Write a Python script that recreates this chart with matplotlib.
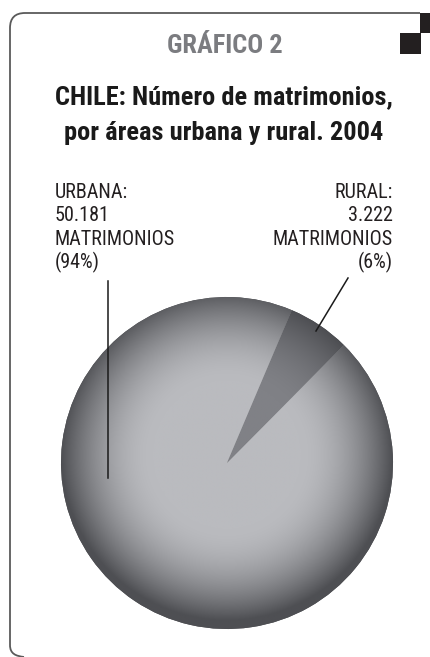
import numpy as np
import matplotlib
matplotlib.use('Agg')
import matplotlib.pyplot as plt
from matplotlib import font_manager
from matplotlib.path import Path
from matplotlib.patches import PathPatch, Rectangle

# data
labels = ['RURAL', 'URBANA']
values = [3222, 50181]
label_text = {
    'URBANA': ['URBANA:', '50.181', 'MATRIMONIOS', '(94%)'],
    'RURAL': ['RURAL:', '3.222', 'MATRIMONIOS', '(6%)'],
}
supertitle = 'GRÁFICO 2'
title_lines = ['CHILE: Número de matrimonios,', 'por áreas urbana y rural. 2004']

names = {f.name for f in font_manager.fontManager.ttflist}
fam = 'DejaVu Sans'
for cand in ['Roboto Condensed', 'Liberation Sans Narrow', 'DejaVu Sans Condensed', 'Liberation Sans']:
    if cand in names:
        fam = cand
        break
plt.rcParams['font.family'] = [fam, 'DejaVu Sans']

W, H = 431, 657
fig = plt.figure(figsize=(W / 100, H / 100), dpi=100)
ax = fig.add_axes([0, 0, 1, 1])


def py(y):
    return H - y


# pie
cx, cy, rad = 227, py(463), 166
wedges, _ = ax.pie(values, center=(cx, cy), radius=rad, startangle=67,
                   counterclock=False, frame=True,
                   wedgeprops=dict(linewidth=0, edgecolor='none'))
ax.set_xlim(0, W)
ax.set_ylim(0, H)
ax.set_aspect('equal')
ax.axis('off')

n = 400
gx = np.linspace(-1, 1, n)
X, Y = np.meshgrid(gx, gx)
R = np.sqrt(X ** 2 + (Y - 0.05) ** 2)
t = np.clip((R - 0.45) / 0.55, 0, 1) ** 1.8

shades = {
    'URBANA': (np.array([186, 187, 191]), np.array([78, 79, 83])),
    'RURAL': (np.array([128, 129, 134]), np.array([70, 71, 75])),
}
for w, lab in zip(wedges, labels):
    light, dark = shades[lab]
    img = (light[None, None, :] * (1 - t[..., None]) + dark[None, None, :] * t[..., None]) / 255
    w.set_facecolor(tuple(dark / 255))
    im = ax.imshow(img, extent=(cx - rad, cx + rad, cy - rad, cy + rad), origin='lower',
                   interpolation='bilinear', zorder=2)
    im.set_clip_path(w)

# frame: left and top edges with rounded corners
frame_col = '#5a5a5a'
r = 15
bl = Path([(10, py(645)), (10, py(654)), (16, py(656)), (24, py(657))],
          [Path.MOVETO, Path.CURVE4, Path.CURVE4, Path.CURVE4])
ax.add_patch(PathPatch(bl, fc='none', ec=frame_col, lw=1.3))
top = Path([(10, py(645)), (10, py(13 + r)), (10, py(13)), (10 + r, py(13)), (420, py(13))],
           [Path.MOVETO, Path.LINETO, Path.CURVE3, Path.CURVE3, Path.LINETO])
ax.add_patch(PathPatch(top, fc='none', ec=frame_col, lw=1.3))

# black corner squares
ax.add_patch(Rectangle((420, py(33)), 11, 20, fc='#231f20', ec='none'))
ax.add_patch(Rectangle((400, py(54)), 21, 21, fc='#231f20', ec='none'))

# titles
ax.text(225, py(53), supertitle, ha='center', va='baseline', fontsize=19,
        fontweight='bold', color='#7b7c80')
ax.text(224, py(104), title_lines[0], ha='center', va='baseline', fontsize=19,
        fontweight='bold', color='#1a1a1a')
ax.text(224, py(140), title_lines[1], ha='center', va='baseline', fontsize=19,
        fontweight='bold', color='#1a1a1a')

# labels and leader lines
lh = 23.3
for i, s in enumerate(label_text['URBANA']):
    ax.text(55, py(198 + i * lh), s, ha='left', va='baseline', fontsize=14.5,
            color='#231f20')
for i, s in enumerate(label_text['RURAL']):
    ax.text(393, py(198 + i * lh), s, ha='right', va='baseline', fontsize=14.5,
            color='#231f20')

ax.plot([108, 108], [py(281), py(478)], color='#1a1a1a', lw=1.1, zorder=3)
ax.plot([348, 316], [py(278), py(331)], color='#1a1a1a', lw=1.1, zorder=3)

fig.savefig('out.png', dpi=100)
